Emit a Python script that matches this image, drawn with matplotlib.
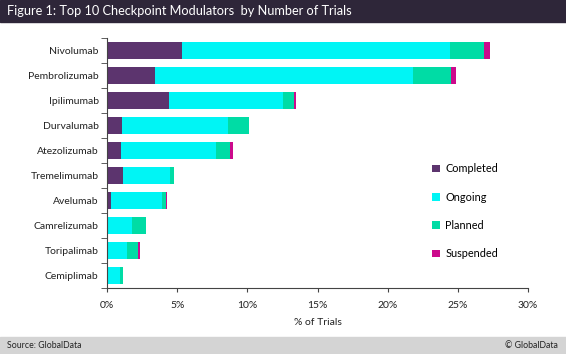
import matplotlib.pyplot as plt
import numpy as np

plt.rcParams['font.family'] = ['Lato', 'DejaVu Sans']

drugs = ["Nivolumab", "Pembrolizumab", "Ipilimumab", "Durvalumab", "Atezolizumab",
         "Tremelimumab", "Avelumab", "Camrelizumab", "Toripalimab", "Cemiplimab"]
completed = [5.38, 3.39, 4.41, 1.09, 0.97, 1.16, 0.26, 0.10, 0.10, 0.0]
ongoing = [19.07, 18.38, 8.15, 7.53, 6.78, 3.32, 3.63, 1.65, 1.34, 0.92]
planned = [2.44, 2.73, 0.78, 1.52, 0.99, 0.28, 0.28, 1.02, 0.74, 0.24]
suspended = [0.40, 0.40, 0.16, 0.0, 0.26, 0.0, 0.14, 0.0, 0.14, 0.0]
series = ["Completed", "Ongoing", "Planned", "Suspended"]
colors = ["#5c346e", "#00f5f5", "#00dca5", "#cc0a8c"]
xticks = [0, 5, 10, 15, 20, 25, 30]

fig = plt.figure(figsize=(5.66, 3.54), dpi=100)
ax = fig.add_axes([0.189, 0.1864, 0.744, 0.7063])

y = np.arange(len(drugs))[::-1]
left = np.zeros(len(drugs))
for name, vals, c in zip(series, [completed, ongoing, planned, suspended], colors):
    vals = np.array(vals)
    ax.barh(y, vals, left=left, height=0.65, color=c, label=name, linewidth=0)
    left += vals

ax.set_xlim(0, 30)
ax.set_ylim(-0.5, len(drugs) - 0.5)
ax.set_xticks(xticks)
ax.set_xticklabels([f"{t}%" for t in xticks], fontsize=7.5, color="#222222")
ax.set_yticks(y)
ax.set_yticklabels(drugs, fontsize=7.5, color="#222222")
ax.set_yticks(np.arange(-0.5, len(drugs)), minor=True)
ax.tick_params(axis="y", which="major", length=0, pad=6)
ax.tick_params(axis="y", which="minor", length=4, color="#444444")
ax.tick_params(axis="x", length=3, color="#444444", pad=6)
ax.set_xlabel("% of Trials", fontsize=7.5, color="#222222", labelpad=6)
for s in ["top", "right"]:
    ax.spines[s].set_visible(False)
for s in ["left", "bottom"]:
    ax.spines[s].set_color("#444444")
    ax.spines[s].set_linewidth(0.8)

ax.legend(loc="upper left", bbox_to_anchor=(0.762, 0.516), frameon=False,
          fontsize=7.8, handlelength=0.7, handleheight=0.7, handletextpad=0.5,
          labelspacing=1.6, borderaxespad=0)

# title bar
fig.patches.append(plt.Rectangle((0, 1 - 22 / 354), 1, 22 / 354, transform=fig.transFigure,
                                 color="#2e2639", zorder=0))
fig.text(0.012, 1 - 11 / 354, "Figure 1: Top 10 Checkpoint Modulators  by Number of Trials",
         color="white", fontsize=9.2, va="center", ha="left")

# footer bar
fig.patches.append(plt.Rectangle((0, 0), 1, 17 / 354, transform=fig.transFigure,
                                 color="#d4d4d4", zorder=0))
fig.text(0.012, 8.5 / 354, "Source: GlobalData", fontsize=6.3, va="center", ha="left", color="#222222")
fig.text(0.985, 8.5 / 354, "© GlobalData", fontsize=6.3, va="center", ha="right", color="#222222")

fig.savefig("out.png", dpi=100)
